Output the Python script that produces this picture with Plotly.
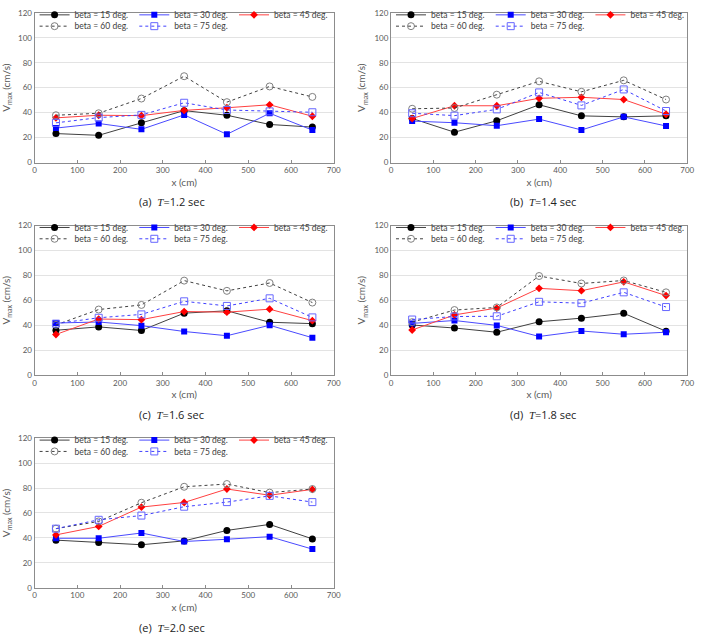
import plotly.graph_objects as go

x_cm = [50, 150, 250, 350, 450, 550, 650]
series_names = ["beta = 15 deg.", "beta = 30 deg.", "beta = 45 deg.", "beta = 60 deg.", "beta = 75 deg."]

# Panel (a) T=1.2 sec
a_b15 = [23.2, 21.8, 31.8, 41.6, 37.9, 30.5, 28.4]
a_b30 = [27.6, 31.3, 26.6, 38.2, 22.6, 39.5, 26.0]
a_b45 = [35.8, 37.9, 37.6, 41.8, 43.9, 46.3, 37.1]
a_b60 = [37.9, 39.5, 51.3, 69.2, 48.4, 61.0, 52.6]
a_b75 = [31.8, 36.0, 38.2, 47.9, 42.1, 41.0, 40.3]
# Panel (b) T=1.4 sec
b_b15 = [35.3, 24.3, 33.5, 46.3, 37.4, 36.6, 37.4]
b_b30 = [33.2, 31.9, 29.5, 34.8, 26.1, 36.6, 29.3]
b_b45 = [35.3, 45.5, 45.5, 51.5, 52.3, 50.5, 38.7]
b_b60 = [43.1, 43.7, 54.4, 65.1, 56.7, 65.9, 50.5]
b_b75 = [39.5, 37.6, 42.6, 56.2, 45.8, 58.6, 41.3]
# Panel (c) T=1.6 sec
c_b15 = [36.0, 38.7, 35.8, 49.7, 51.6, 42.4, 41.3]
c_b30 = [41.8, 42.6, 39.7, 35.0, 31.6, 40.0, 30.0]
c_b45 = [32.6, 45.0, 44.5, 51.0, 50.5, 52.9, 43.7]
c_b60 = [40.3, 52.6, 56.3, 75.8, 67.6, 73.9, 58.2]
c_b75 = [41.3, 46.0, 48.7, 59.2, 55.5, 61.6, 46.3]
# Panel (d) T=1.8 sec
d_b15 = [40.2, 37.8, 34.4, 42.8, 45.7, 49.6, 35.2]
d_b30 = [41.5, 43.8, 39.9, 31.0, 35.4, 32.8, 34.4]
d_b45 = [36.2, 48.3, 53.8, 69.6, 67.7, 74.8, 63.8]
d_b60 = [42.5, 52.2, 54.3, 79.5, 73.5, 75.9, 66.4]
d_b75 = [44.6, 47.0, 47.2, 58.8, 57.7, 66.4, 54.6]
# Panel (e) T=2.0 sec
e_b15 = [38.2, 36.3, 34.5, 37.6, 46.0, 50.8, 39.2]
e_b30 = [39.7, 39.7, 43.9, 37.1, 38.9, 41.0, 31.0]
e_b45 = [42.4, 49.2, 64.7, 68.4, 79.2, 74.2, 78.9]
e_b60 = [47.4, 53.2, 68.2, 81.0, 83.2, 76.3, 79.2]
e_b75 = [47.4, 54.5, 57.9, 65.0, 68.7, 73.7, 68.7]

captions = ["(a)", "(b)", "(c)", "(d)", "(e)"]
periods = ["1.2", "1.4", "1.6", "1.8", "2.0"]
x_ticks = [0, 100, 200, 300, 400, 500, 600, 700]
y_ticks = [0, 20, 40, 60, 80, 100, 120]

panels = [
    [a_b15, a_b30, a_b45, a_b60, a_b75],
    [b_b15, b_b30, b_b45, b_b60, b_b75],
    [c_b15, c_b30, c_b45, c_b60, c_b75],
    [d_b15, d_b30, d_b45, d_b60, d_b75],
    [e_b15, e_b30, e_b45, e_b60, e_b75],
]

W, H = 709, 641
# plot-area boxes in pixels (left, right, top, bottom)
boxes = [
    (33, 336, 8, 160),
    (394, 694, 8, 160),
    (33, 336, 224, 376),
    (394, 694, 224, 376),
    (33, 336, 440, 592),
]
cap_pos = [(172, 200), (548, 200), (172, 416), (548, 416), (172, 632)]
# legend entry slots: (column, row) for each series; marker-centre offsets from plot left/top
slot_colrow = [(0, 0), (1, 0), (2, 0), (0, 1), (1, 1)]
slot_col_dx = [20, 121, 222]
slot_row_dy = [2, 13.5]

FONT = "Lato"
styles = [
    dict(line=dict(color="#404040", width=1), marker=dict(symbol="circle", size=7, color="#000000")),
    dict(line=dict(color="#4a4aff", width=1), marker=dict(symbol="square", size=6, color="#0000ff")),
    dict(line=dict(color="#ff4040", width=1), marker=dict(symbol="diamond", size=6, color="#ff0000")),
    dict(line=dict(color="#404040", width=1, dash="dot"),
         marker=dict(symbol="circle-open", size=7, color="#808080", line=dict(width=1))),
    dict(line=dict(color="#4040ff", width=1, dash="dot"),
         marker=dict(symbol="square-open", size=7, color="#6666ff", line=dict(width=1))),
]

fig = go.Figure()
layout = {}
leg_count = 0
for i, (data, box) in enumerate(zip(panels, boxes)):
    n = "" if i == 0 else str(i + 1)
    L, R, T, B = box
    for j, (name, ys) in enumerate(zip(series_names, data)):
        leg_count += 1
        leg = "legend" if leg_count == 1 else f"legend{leg_count}"
        fig.add_trace(go.Scatter(
            x=x_cm, y=ys, name=name, mode="lines+markers",
            xaxis="x" + n, yaxis="y" + n, legend=leg, showlegend=True,
            **styles[j]))
        col, row = slot_colrow[j]
        mx = L + slot_col_dx[col]
        my = T + slot_row_dy[row]
        layout[leg] = dict(
            x=(mx - 20) / W, y=1 - my / H, xanchor="left", yanchor="middle",
            orientation="h", bgcolor="rgba(0,0,0,0)", borderwidth=0,
            font=dict(family=FONT, size=8.5, color="#404040"),
            itemwidth=30, tracegroupgap=0,
        )
    layout["xaxis" + n] = dict(
        domain=[L / W, R / W], anchor="y" + n, range=[0, 700], tickvals=x_ticks,
        showgrid=False, zeroline=False, showline=True, linecolor="#8c8c8c", mirror=True,
        ticks="inside", ticklen=3, tickcolor="#8c8c8c",
        tickfont=dict(family=FONT, size=8, color="#595959"),
        title=dict(text="x (cm)", font=dict(family=FONT, size=10, color="#595959"), standoff=4),
    )
    layout["yaxis" + n] = dict(
        domain=[1 - B / H, 1 - T / H], anchor="x" + n, range=[0, 120], tickvals=y_ticks,
        showgrid=True, gridcolor="#e3e3e3", gridwidth=1, zeroline=False,
        showline=True, linecolor="#8c8c8c", mirror=True, ticks="",
        tickfont=dict(family=FONT, size=8, color="#595959"),
        title=dict(text="V<sub>max</sub> (cm/s)", font=dict(family=FONT, size=10, color="#595959"), standoff=6),
    )

annotations = []
for (cx, cy), cap, per in zip(cap_pos, captions, periods):
    annotations.append(dict(
        x=cx / W, y=1 - cy / H, xref="paper", yref="paper", showarrow=False,
        xanchor="center", yanchor="middle",
        text=f"{cap}  <span style='font-family:Liberation Serif'><i>T</i></span>={per} sec",
        font=dict(family="Open Sans", size=11, color="#222222"),
    ))

fig.update_layout(
    width=W, height=H, margin=dict(l=0, r=0, t=0, b=0),
    paper_bgcolor="white", plot_bgcolor="white", showlegend=True,
    annotations=annotations, **layout,
)
fig.write_html("out.html")
